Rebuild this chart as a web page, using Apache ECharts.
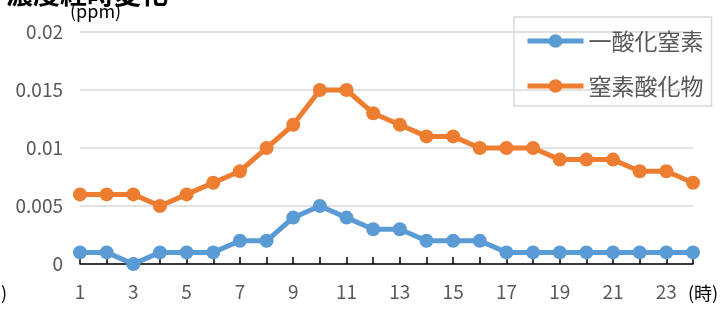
<!DOCTYPE html>
<html lang="ja">
<head>
<meta charset="UTF-8">
<title>濃度経時変化</title>
<script src="https://cdn.jsdelivr.net/npm/echarts@6/dist/echarts.min.js"></script>
<style>
  html, body { margin: 0; padding: 0; background: #fff; }
  #chart { width: 728px; height: 311px; }
</style>
</head>
<body>
<div id="chart"></div>
<script>
// 時刻 (1〜24時)
const hours = ['1','2','3','4','5','6','7','8','9','10','11','12','13','14','15','16','17','18','19','20','21','22','23','24'];
// 一酸化窒素 (ppm)
const noValues = [0.001,0.001,0,0.001,0.001,0.001,0.002,0.002,0.004,0.005,0.004,0.003,0.003,0.002,0.002,0.002,0.001,0.001,0.001,0.001,0.001,0.001,0.001,0.001];
// 窒素酸化物 (ppm)
const noxValues = [0.006,0.006,0.006,0.005,0.006,0.007,0.008,0.010,0.012,0.015,0.015,0.013,0.012,0.011,0.011,0.010,0.010,0.010,0.009,0.009,0.009,0.008,0.008,0.007];
const seriesNames = ['一酸化窒素', '窒素酸化物'];

const font = '"Noto Sans CJK JP", "Noto Sans", sans-serif';
const chart = echarts.init(document.getElementById('chart'));

const lineSeries = (name, data, color) => ({
  name: name,
  type: 'line',
  data: data,
  symbol: 'circle',
  symbolSize: 14,
  itemStyle: { color: color },
  lineStyle: { color: color, width: 5 },
  animation: false
});

chart.setOption({
  animation: false,
  grid: { left: 80, right: 35, top: 32, bottom: 47 },
  legend: {
    orient: 'vertical',
    left: 514,
    top: 17,
    width: 200,
    padding: [12, 8, 8, 11],
    itemGap: 21,
    itemWidth: 56,
    itemHeight: 17,
    itemTextGap: 4,
    borderColor: '#d9d9d9',
    borderWidth: 1.5,
    lineStyle: { width: 5 },
    textStyle: { fontFamily: font, fontSize: 23, color: '#595959', lineHeight: 24 },
    data: seriesNames
  },
  xAxis: {
    type: 'category',
    data: hours,
    boundaryGap: false,
    axisLine: { lineStyle: { color: '#000', width: 1.5 } },
    axisTick: { inside: true, length: 7, interval: 0, lineStyle: { color: '#000', width: 1.5 } },
    axisLabel: { interval: 1, margin: 18, fontFamily: font, fontSize: 19, color: '#595959' },
    splitLine: { show: false }
  },
  yAxis: {
    type: 'value',
    min: 0,
    max: 0.02,
    interval: 0.005,
    axisLine: { show: false },
    axisTick: { show: false },
    axisLabel: {
      margin: 17,
      fontFamily: font,
      fontSize: 19,
      color: '#595959',
      formatter: v => String(+v.toFixed(3))
    },
    splitLine: { lineStyle: { color: '#d9d9d9', width: 1.5 } }
  },
  graphic: [
    { type: 'text', left: 6, top: -20, style: { text: '濃度経時変化', font: 'bold 27px ' + font, fill: '#000' } },
    { type: 'text', left: 70, top: 2, style: { text: '(ppm)', font: '18px ' + font, fill: '#000' } },
    { type: 'text', left: 688, top: 284, style: { text: '(時)', font: '18px ' + font, fill: '#000' } },
    { type: 'text', left: 1, top: 284, style: { text: ')', font: '18px ' + font, fill: '#000' } }
  ],
  series: [
    lineSeries(seriesNames[0], noValues, '#5b9bd5'),
    lineSeries(seriesNames[1], noxValues, '#ed7d31')
  ]
});
</script>
</body>
</html>
